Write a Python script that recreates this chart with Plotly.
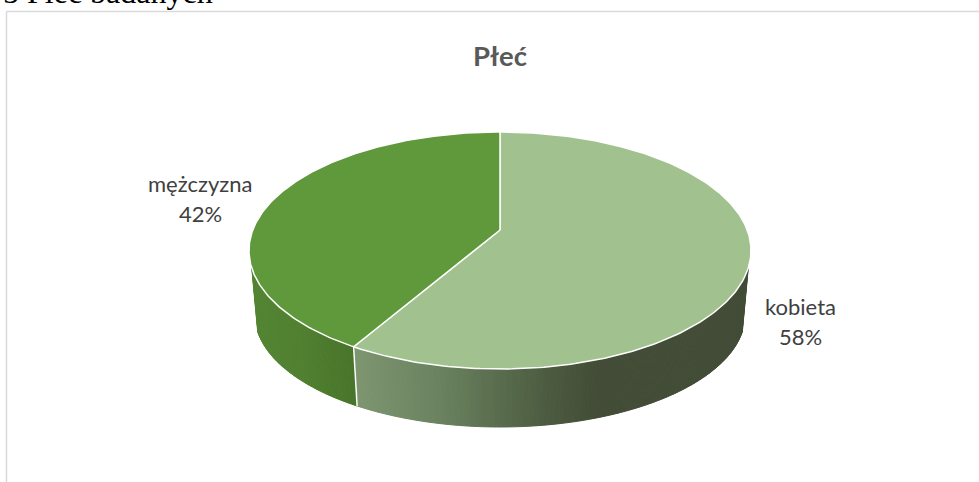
import numpy as np
import plotly.graph_objects as go

# Printed labels are rounded to whole percent; the slice sizes are estimated
# from the angle of the drawn boundary and round to those labels.
categories = ["kobieta", "mężczyzna"]
values = [58.4, 41.6]
top_colors = ["rgb(161,193,143)", "rgb(96,152,60)"]
title_text = "Płeć"
caption_text = "5 Płeć badanych"

W, H = 979, 482
CX = 500
TOP_A, TOP_B, TOP_CY = 251, 118.5, 250.5
BOT_A, BOT_B, BOT_CY = 245, 112, 315
S = 0.173
SIL = -0.139


def project(theta):
    """Angle clockwise from 12 o'clock on the pie -> normalised ellipse point (perspective)."""
    u, v = np.sin(theta), np.cos(theta)
    d = 1 + S * v
    return u * np.sqrt(1 - S ** 2) / d, (v + S) / d


def top_xy(X, Y):
    return CX + TOP_A * X, TOP_CY - TOP_B * Y


def bot_xy(X, Y):
    return CX + BOT_A * X, BOT_CY - BOT_B * Y


def ramp(x, stops):
    xs = [s[0] for s in stops]
    return "rgb(%d,%d,%d)" % tuple(np.interp(x, xs, [s[1][i] for s in stops]) for i in range(3))


wall_stops = [
    [(356, (125, 150, 112)), (440, (106, 130, 95)), (540, (78, 94, 66)), (600, (66, 76, 54)), (760, (66, 76, 54))],
    [(249, (84, 134, 52)), (300, (80, 128, 48)), (356, (72, 116, 42))],
]

fractions = np.cumsum([0] + values) / sum(values)
fig = go.Figure()

# side walls
for i in range(len(values)):
    t0, t1 = 2 * np.pi * fractions[i], 2 * np.pi * fractions[i + 1]
    th = np.linspace(t0, t1, int(np.degrees(t1 - t0) * 2) + 1)
    X, Y = project(th)
    keep = Y <= SIL
    th = th[keep]
    X, Y = X[keep], Y[keep]
    tx, ty = top_xy(X, Y)
    bx, by = bot_xy(X, Y)
    for k in range(len(th) - 1):
        c = ramp((tx[k] + tx[k + 1]) / 2, wall_stops[i])
        fig.add_trace(go.Scatter(
            x=[tx[k], tx[k + 1], bx[k + 1], bx[k], tx[k]],
            y=[ty[k], ty[k + 1], by[k + 1], by[k], ty[k]],
            mode="lines", fill="toself", fillcolor=c,
            line=dict(color=c, width=1), hoverinfo="skip", showlegend=False))

# white seam on the wall at slice boundaries that face the viewer
for f in fractions[:-1]:
    X, Y = project(np.array([2 * np.pi * f]))
    if Y[0] <= SIL:
        tx, ty = top_xy(X, Y)
        bx, by = bot_xy(X, Y)
        fig.add_trace(go.Scatter(x=[tx[0], bx[0]], y=[ty[0], by[0]], mode="lines",
                                 line=dict(color="white", width=1.5), hoverinfo="skip", showlegend=False))

# top face
cX, cY = 0.0, S
for i in range(len(values)):
    t0, t1 = 2 * np.pi * fractions[i], 2 * np.pi * fractions[i + 1]
    th = np.linspace(t0, t1, 240)
    X, Y = project(th)
    px, py = top_xy(X, Y)
    c0x, c0y = top_xy(np.array([cX]), np.array([cY]))
    fig.add_trace(go.Scatter(
        x=np.r_[c0x, px, c0x], y=np.r_[c0y, py, c0y],
        mode="lines", fill="toself", fillcolor=top_colors[i],
        line=dict(color="white", width=1.5), hoverinfo="skip", showlegend=False))

# labels
name_pos = [(800, 306), (200, 183)]
pct_pos = [(800, 336), (200, 213)]
annotations = []
for i, name in enumerate(categories):
    annotations.append(dict(x=name_pos[i][0], y=name_pos[i][1], text=name, showarrow=False,
                            font=dict(family="Lato", size=22, color="#404040")))
    annotations.append(dict(x=pct_pos[i][0], y=pct_pos[i][1], text=f"{values[i]:.0f}%", showarrow=False,
                            font=dict(family="Lato", size=22, color="#404040")))
annotations.append(dict(x=500, y=55, text=f"<b>{title_text}</b>", showarrow=False,
                        font=dict(family="Lato", size=27.5, color="#595959")))
annotations.append(dict(x=2, y=11, text=caption_text, showarrow=False, xanchor="left", yanchor="bottom",
                        font=dict(family="Liberation Serif", size=32, color="#000000"),
                        borderpad=0))

frame = dict(type="line", line=dict(color="#d9d9d9", width=1.5), layer="below")
fig.update_layout(
    width=W, height=H, autosize=False,
    margin=dict(l=0, r=0, t=0, b=0),
    paper_bgcolor="white", plot_bgcolor="white",
    xaxis=dict(range=[0, W], visible=False, fixedrange=True),
    yaxis=dict(range=[H, 0], visible=False, fixedrange=True),
    annotations=annotations,
    shapes=[dict(frame, x0=6.5, x1=W, y0=11.5, y1=11.5),
            dict(frame, x0=6.5, x1=6.5, y0=11.5, y1=H)],
)
fig.write_html("out.html", config=dict(displayModeBar=False),
               post_script="document.body.style.margin='0';document.body.style.overflow='hidden';")
